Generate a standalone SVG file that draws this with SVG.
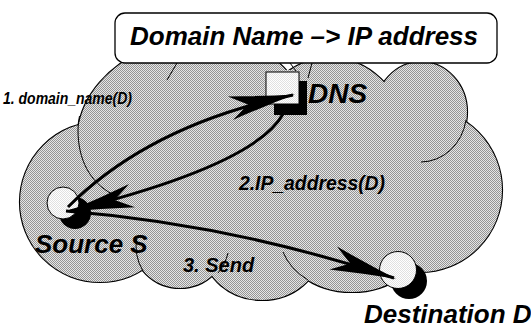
<svg xmlns="http://www.w3.org/2000/svg" width="531" height="329" viewBox="0 0 531 329">
  <defs>
    <!-- dithered grey used for the cloud -->
    <pattern id="dither" width="2" height="2" patternUnits="userSpaceOnUse">
      <rect width="2" height="2" fill="#e6e6e6"/>
      <rect width="1" height="1" fill="#959595"/>
      <rect x="1" y="1" width="1" height="1" fill="#959595"/>
    </pattern>
    <!-- very light dither for the host symbols -->
    <pattern id="lite" width="2" height="2" patternUnits="userSpaceOnUse">
      <rect width="2" height="2" fill="#ffffff"/>
      <rect width="1" height="1" fill="#e0e0e0"/>
      <rect x="1" y="1" width="1" height="1" fill="#e0e0e0"/>
    </pattern>
    <marker id="head" markerUnits="userSpaceOnUse" orient="auto" refX="0" refY="0"
            markerWidth="80" markerHeight="40" viewBox="-70 -20 80 40" overflow="visible">
      <path d="M2,0 Q-30,-5 -64,-12 L-46,0 L-64,12 Q-30,5 2,0 Z" fill="#000"/>
    </marker>
    <!-- cloud lobes -->
    <circle id="lobeA" cx="100" cy="202" r="80"/>
    <path id="lobeB" d="M145,50 C110,65 82,95 78,130 C78,160 90,182 112,196 L200,180 L200,45 Z"/>
    <circle id="lobeC" cx="230" cy="120" r="75"/>
    <circle id="lobeD" cx="330" cy="130" r="72"/>
    <ellipse id="lobeE" cx="421" cy="112" rx="46" ry="50"/>
    <circle id="lobeF" cx="420" cy="190" r="82"/>
    <circle id="lobeG1" cx="180" cy="240" r="48"/>
    <ellipse id="lobeG2" cx="262" cy="250" rx="58" ry="50"/>
    <ellipse id="lobeG3" cx="352" cy="235" rx="72" ry="57"/>
  </defs>
  <style>
    .lbl { font-family: "Liberation Sans", Arial, Helvetica, sans-serif; font-weight: bold; font-style: italic; fill: #000; }
    .edge { fill: none; stroke: #000; stroke-width: 3; }
    .rim { fill: none; stroke: #000; stroke-width: 2.2; }
    .inner { fill: none; stroke: #000; stroke-width: 1; }
    .host { fill: url(#lite); stroke: #000; stroke-width: 1; }
  </style>

  <!-- network cloud -->
  <g id="cloud">
    <g class="rim">
      <use href="#lobeA"/><use href="#lobeB"/><use href="#lobeC"/><use href="#lobeD"/>
      <use href="#lobeE"/><use href="#lobeF"/><use href="#lobeG1"/><use href="#lobeG2"/><use href="#lobeG3"/>
    </g>
    <g fill="url(#dither)" stroke="none">
      <use href="#lobeA"/><use href="#lobeB"/><use href="#lobeC"/><use href="#lobeD"/>
      <use href="#lobeE"/><use href="#lobeF"/><use href="#lobeG1"/><use href="#lobeG2"/><use href="#lobeG3"/>
      <polygon points="100,140 180,70 300,70 420,90 460,180 420,260 300,270 180,260 90,230"/>
    </g>
    <g class="inner">
      <path d="M79.5,116 Q78,122 78,130 C78,160 90,182 112,194"/>
      <path d="M177,63 L167,80"/>
      <path d="M290,63 L296,71"/>
      <path d="M312,63 L308,78"/>
      <path d="M466,120 A46,50 0 0 1 421,162"/>
      <path d="M137,237 A48,48 0 0 0 143,271"/>
      <path d="M218,273 A48,48 0 0 0 228,253"/>
      <path d="M283,252 A72,57 0 0 0 308,280"/>
    </g>
  </g>

  <!-- title banner -->
  <g id="title">
    <rect x="115" y="13" width="382" height="50" rx="10" ry="10" fill="#fff" stroke="#000" stroke-width="1.3"/>
    <text class="lbl" x="130" y="45" font-size="26">Domain Name –&gt; IP address</text>
  </g>

  <!-- DNS server -->
  <g id="dns">
    <rect x="274" y="81" width="33" height="34" fill="#000"/>
    <rect x="266" y="72" width="33" height="32" class="host"/>
    <text class="lbl" x="308" y="103" font-size="28">DNS</text>
  </g>

  <!-- source host -->
  <g id="source">
    <circle cx="75" cy="213" r="16" fill="#000"/>
    <circle cx="63" cy="203" r="16" class="host"/>
    <text class="lbl" x="35" y="253" font-size="26">Source S</text>
  </g>

  <!-- destination host -->
  <g id="destination">
    <circle cx="409" cy="281" r="18" fill="#000"/>
    <circle cx="398" cy="270" r="18.5" class="host"/>
    <text class="lbl" x="364" y="323" font-size="26">Destination D</text>
  </g>

  <!-- messages -->
  <g id="connectors">
    <path class="edge" d="M68,207 Q150,125 293,95" marker-end="url(#head)"/>
    <path class="edge" d="M283,114 Q255,165 70,211" marker-end="url(#head)"/>
    <path class="edge" d="M66,211 Q230,224 394,278" marker-end="url(#head)"/>
  </g>

  <g id="labels">
    <text class="lbl" x="3" y="104" font-size="16" textLength="129" lengthAdjust="spacingAndGlyphs">1. domain_name(D)</text>
    <text class="lbl" x="239" y="190" font-size="20" textLength="146" lengthAdjust="spacingAndGlyphs">2.IP_address(D)</text>
    <text class="lbl" x="183" y="272" font-size="20">3. Send</text>
  </g>
</svg>
